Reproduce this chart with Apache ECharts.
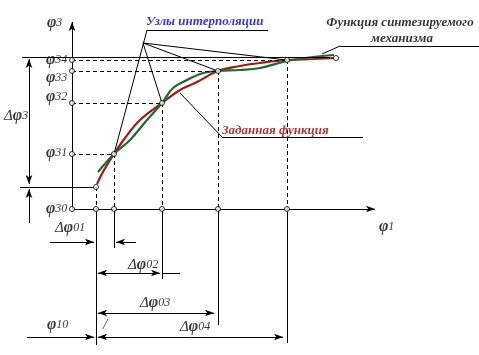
<!DOCTYPE html>
<html><head><meta charset="utf-8">
<script src="https://cdn.jsdelivr.net/npm/echarts@6/dist/echarts.min.js"></script>
<style>html,body{margin:0;padding:0;background:#fff}#c{width:479px;height:355px}</style>
</head><body><div id="c"></div>
<script>
// ---- data (φ1 along x, φ3 along y; origin at φ10/φ30) ----
const phi1Nodes = [24, 42, 90, 146, 215];          // positions of interpolation nodes on φ1
const phi3Nodes = [22, 55, 106, 138, 149];         // φ3 values at the nodes
const phi3Levels = [0, 55, 106, 138, 149];         // φ30..φ34 tick levels
const phi3LevelLabels = ['0', '1', '2', '3', '4'];
const phi3LabelY = [0, 56, 112, 131, 149];
const curveEnd = [264, 151];
// given function (red)
const givenX = [25, 32, 42, 53, 68, 90, 108, 125, 146, 168, 188, 215, 241, 262];
const givenY = [25, 39, 55, 71, 89, 106, 119, 127, 138, 143, 146, 149, 150, 151];
// synthesized mechanism function (green)
const synthX = [26, 42, 58, 75, 90, 101, 115, 131, 146, 168, 188, 215, 241, 262];
const synthY = [37, 55, 69, 89, 106, 121, 129, 136, 138, 139, 141, 148, 152, 154];
// dimension lines below the axis: [label, y, x0, x1]
const dims = [['02', -64, 24, 90], ['03', -104, 24, 144], ['04', -128, 24, 213]];
const dimLabelPos = [[56, -56], [68, -94], [108, -118]];
const belowLen = [-136, -39, -70, -116, -134];

const fontSerif = 'Liberation Serif';
const rich = {
  p: {fontFamily: fontSerif, fontStyle: 'italic', fontWeight: 'bold', fontSize: 16, color: '#000'},
  s: {fontFamily: fontSerif, fontStyle: 'italic', fontSize: 12, color: '#000'},
  d: {fontFamily: fontSerif, fontStyle: 'italic', fontSize: 15, color: '#000'}
};

function seg(a, b, endArrow, dashed, width) {
  return [{coord: a, symbol: 'none'},
          {coord: b, symbol: endArrow ? 'arrow' : 'none',
           lineStyle: {type: dashed ? [4, 3] : 'solid', width: width || 1, color: '#000'}}];
}
const solid = [], dashed = [], thin = [];
// axes
solid.push(seg([0, 0], [0, 187], true));
solid.push(seg([0, 0], [303, 0], true));
// top line
solid.push(seg([-50, 152], [258, 152], false));
// Δφ3 dimension
solid.push(seg([-43, 100], [-43, 150], true));
solid.push(seg([-43, 100], [-43, 25], true));
solid.push(seg([-43, -14], [-43, 20], true));
solid.push(seg([-52, 22], [24, 22], false));
// verticals below axis
phi1Nodes.forEach((x, i) => solid.push(seg([x, 0], [x, belowLen[i]], false)));
// dashed guides
phi1Nodes.forEach((x, i) => {
  dashed.push(seg([x, phi3Nodes[i]], [x, 0], false, true));
  if (i > 0) dashed.push(seg([0, phi3Nodes[i]], [x, phi3Nodes[i]], false, true));
});
// Δφ01
solid.push(seg([-22, -33], [22, -33], true));
solid.push(seg([64, -33], [44, -33], true));
// Δφ02..04
dims.forEach(d => {
  const m = (d[2] + d[3]) / 2;
  solid.push(seg([m, d[1]], [d[2] + 2, d[1]], true));
  solid.push(seg([m, d[1]], [d[3] - 2, d[1]], true));
});
solid.push(seg([90, -64], [108, -64], false));
// φ10
solid.push(seg([-45, -128], [22, -128], true));
// leaders
thin.push(seg([75, 179], [196, 179], false));
thin.push(seg([75, 179], [42, 55], false));
thin.push(seg([71, 166], [90, 106], false));
thin.push(seg([71, 166], [146, 138], false));
thin.push(seg([71, 166], [215, 149], false));
thin.push(seg([268, 163], [407, 163], false));
thin.push(seg([268, 163], [250, 155], false));
thin.push(seg([150, 72], [291, 72], false));
thin.push(seg([150, 72], [108, 116], false));

// circles
const circles = [];
phi3Levels.forEach(y => circles.push([0, y]));
phi1Nodes.forEach((x, i) => { circles.push([x, 0]); circles.push([x, phi3Nodes[i]]); });
circles.push(curveEnd);

// texts
function t(x, y, text, extra) {
  return Object.assign({value: [x, y], label: Object.assign({formatter: text}, extra || {})});
}
const texts = [
  t(-25, 186, '{p|φ}{s|3}'),
  t(-68, 93, '{d|Δ}{p|φ}{s|3}'),
  t(307, -18, '{p|φ}{s|1}'),
  t(-17, -19, '{d|Δ}{p|φ}{s|01}'),
  t(-25, -116, '{p|φ}{s|10}'),
  t(31, -116, '{d|/}'),
  t(74, 187, 'Узлы интерполяции', {color: '#0000ee', fontFamily: fontSerif, fontStyle: 'italic', fontWeight: 'bold', fontSize: 13}),
  t(328, 186, 'Функция синтезируемого', {align: 'center', color: '#000', fontFamily: fontSerif, fontStyle: 'italic', fontWeight: 'bold', fontSize: 13}),
  t(330, 170, 'механизма', {align: 'center', color: '#000', fontFamily: fontSerif, fontStyle: 'italic', fontWeight: 'bold', fontSize: 13}),
  t(150, 78, 'Заданная функция', {color: '#a00000', fontFamily: fontSerif, fontStyle: 'italic', fontWeight: 'bold', fontSize: 13})
];
phi3LevelLabels.forEach((l, i) => texts.push(t(-26, phi3LabelY[i], '{p|φ}{s|3' + l + '}')));
dims.forEach((d, i) => texts.push(t(dimLabelPos[i][0], dimLabelPos[i][1], '{d|Δ}{p|φ}{s|' + d[0] + '}')));

const zip = (a, b) => a.map((v, i) => [v, b[i]]);
const mk = (data, width) => ({
  type: 'line', data: [], silent: true,
  markLine: {silent: true, animation: false, symbolSize: [5, 9], label: {show: false},
    lineStyle: {type: 'solid', width: width, color: '#000'}, emphasis: {disabled: true}, data: data}
});

const chart = echarts.init(document.getElementById('c'), null, {renderer: 'canvas'});
chart.setOption({
  animation: false,
  grid: {left: 0, right: 0, top: 0, bottom: 0},
  xAxis: {type: 'value', min: -72, max: 407, show: false},
  yAxis: {type: 'value', min: -146, max: 209, show: false},
  series: [
    mk(solid, 1.3), mk(dashed, 1), mk(thin, 0.8),
    {type: 'line', data: zip(givenX, givenY), smooth: 0.4, showSymbol: false, silent: true,
     lineStyle: {color: '#9e1a1a', width: 2.2}, z: 3},
    {type: 'line', data: zip(synthX, synthY), smooth: 0.4, showSymbol: false, silent: true,
     lineStyle: {color: '#1b6b2e', width: 2.2}, z: 3},
    {type: 'scatter', data: circles, symbol: 'circle', symbolSize: 5, silent: true, z: 5,
     itemStyle: {color: '#fff', borderColor: '#000', borderWidth: 1}},
    {type: 'scatter', data: texts, symbolSize: 0, silent: true, z: 6,
     label: {show: true, position: [0, 0], align: 'left', verticalAlign: 'middle', rich: rich}}
  ]
});
</script></body></html>
